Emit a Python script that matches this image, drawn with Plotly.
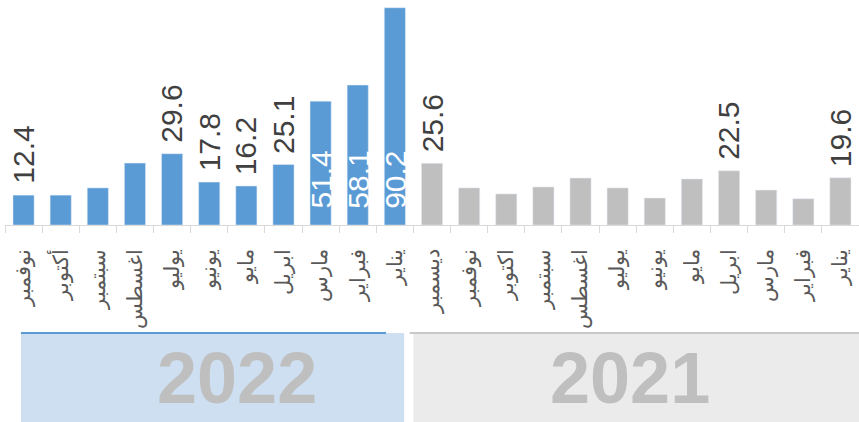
import plotly.graph_objects as go

# ---- data ----
months_2022 = ["نوفمبر", "أكتوبر", "سبتمبر", "اغسطس", "يوليو", "يونيو",
               "مايو", "ابريل", "مارس", "فبراير", "يناير"]
values_2022 = [12.4, 12.4, 15.4, 25.7, 29.6, 17.8, 16.2, 25.1, 51.4, 58.1, 90.2]
show_2022 = [True, False, False, False, True, True, True, True, True, True, True]
inside_2022 = [False, False, False, False, False, False, False, False, True, True, True]

months_2021 = ["ديسمبر", "نوفمبر", "اكتوبر", "سبتمبر", "اغسطس", "يوليو",
               "يونيو", "مايو", "ابريل", "مارس", "فبراير", "يناير"]
values_2021 = [25.6, 15.4, 12.9, 15.8, 19.5, 15.4, 11.2, 19.1, 22.5, 14.5, 10.9, 19.6]
show_2021 = [True, False, False, False, False, False, False, False, True, False, False, True]
inside_2021 = [False] * len(values_2021)

years = ["2022", "2021"]

BLUE = "#5b9bd5"
GRAY = "#bfbfbf"
LABEL = "#404040"

n22 = len(values_2022)
n21 = len(values_2021)
x22 = list(range(n22))
x21 = list(range(n22, n22 + n21))
all_months = months_2022 + months_2021
N = len(all_months)

fig = go.Figure()
fig.add_trace(go.Bar(x=x22, y=values_2022, marker_color=BLUE, width=0.57,
                     hoverinfo="skip"))
fig.add_trace(go.Bar(x=x21, y=values_2021, marker_color=GRAY, width=0.57,
                     hoverinfo="skip"))

# value labels: above the bar, or white inside near the base
for xs, vals, shows, insides in ((x22, values_2022, show_2022, inside_2022),
                                 (x21, values_2021, show_2021, inside_2021)):
    for xi, v, s, ins in zip(xs, vals, shows, insides):
        if not s:
            continue
        fig.add_annotation(x=xi, y=0 if ins else v, xref="x", yref="y",
                           text=f"{v:.1f}", showarrow=False, textangle=-90,
                           yanchor="bottom", xanchor="center",
                           yshift=14 if ins else 9,
                           font=dict(family="Arial", size=30,
                                     color="white" if ins else LABEL))

# year bands below the axis
band_y0, band_y1 = -0.9, -0.48
fig.add_shape(type="rect", xref="x", yref="paper",
              x0=-0.07, x1=n22 - 0.75, y0=band_y0, y1=band_y1,
              fillcolor="#cddff0", line_width=0, layer="below")
fig.add_shape(type="line", xref="x", yref="paper",
              x0=-0.07, x1=n22 - 1.24, y0=band_y1, y1=band_y1,
              line=dict(color=BLUE, width=2))
fig.add_shape(type="rect", xref="x", yref="paper",
              x0=n22 - 0.5, x1=N - 0.5, y0=band_y0, y1=band_y1,
              fillcolor="#ebebeb", line_width=0, layer="below")
fig.add_shape(type="line", xref="x", yref="paper",
              x0=n22 - 0.6, x1=N - 0.5, y0=band_y1, y1=band_y1,
              line=dict(color="#c8c8c8", width=2))

fig.add_annotation(x=5.75, y=-0.68, xref="x", yref="paper", text=years[0],
                   showarrow=False, yanchor="middle",
                   font=dict(family="Arial", size=72, color=GRAY, weight="bold"))
fig.add_annotation(x=16.33, y=-0.68, xref="x", yref="paper", text=years[1],
                   showarrow=False, yanchor="middle",
                   font=dict(family="Arial", size=72, color=GRAY, weight="bold"))

fig.update_layout(
    width=859, height=422,
    margin=dict(l=5, r=0, t=0, b=197),
    paper_bgcolor="white", plot_bgcolor="white",
    barmode="overlay", showlegend=False,
    xaxis=dict(
        range=[-0.5, N - 0.5],
        tickmode="array", tickvals=list(range(N)), ticktext=all_months,
        tickangle=-90, ticks="", ticklabelstandoff=15,
        tickfont=dict(family="Arial", size=21, color="#595959"),
        showline=True, linecolor="#d9d9d9", linewidth=1,
        showgrid=False, zeroline=False,
        minor=dict(tickmode="array", tickvals=[i - 0.5 for i in range(N + 1)],
                   ticks="outside", ticklen=7, tickcolor="#d9d9d9",
                   tickwidth=1, showgrid=False),
    ),
    yaxis=dict(range=[0, 93.4], visible=False, showgrid=False, zeroline=False),
)

fig.write_html("out.html", config={"displayModeBar": False},
               post_script="document.body.style.margin='0';document.body.style.overflow='hidden';")
